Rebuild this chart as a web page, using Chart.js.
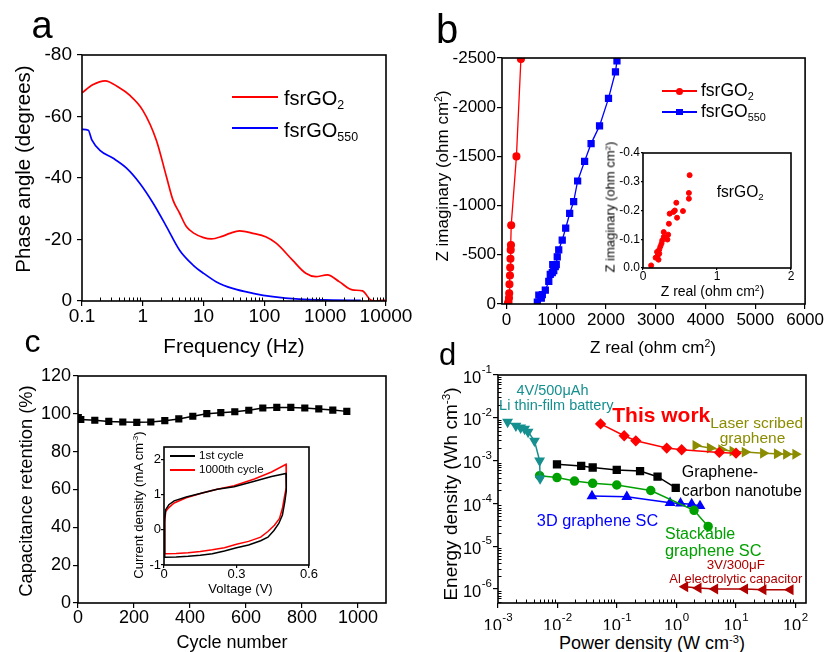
<!DOCTYPE html>
<html>
<head>
<meta charset="utf-8">
<script src="https://cdn.jsdelivr.net/npm/chart.js@4.4.1/dist/chart.umd.min.js"></script>
<style>
  body { margin: 0; background: #fff; }
  #wrap { position: relative; width: 827px; height: 652px; overflow: hidden; font-family: "Liberation Sans", Arial, sans-serif; }
  #wrap canvas { position: absolute; }
  .t { position: absolute; white-space: nowrap; line-height: 1; color: #000; }
  .t sup { font-size: 62%; line-height: 0; vertical-align: 0.55em; }
  .t .sb { font-size: 62%; line-height: 0; vertical-align: -0.32em; }
  .ln { position: absolute; height: 2px; }
  .mk { position: absolute; }
</style>
</head>
<body>
<div id="wrap">
  <canvas id="ca" width="420" height="330" style="left:0;top:0"></canvas>
  <canvas id="cb" width="407" height="330" style="left:420px;top:0"></canvas>
  <canvas id="cbi" width="210" height="160" style="left:590px;top:140px"></canvas>
  <canvas id="cc" width="420" height="300" style="left:0;top:330px"></canvas>
  <canvas id="cci" width="200" height="170" style="left:120px;top:430px"></canvas>
  <canvas id="cd" width="407" height="300" style="left:420px;top:330px"></canvas>
</div>
<script>
const FONT = '"Liberation Sans", Arial, sans-serif';

// a: phase angle vs frequency
const aFreqRed = [0.1, 0.15, 0.24, 0.4, 0.6, 1, 1.67, 2.45, 3.14, 4, 5.2, 7, 10, 13.4, 20, 27, 39, 65, 107, 156, 290, 480, 700, 1090, 1700, 2800, 4100, 5600, 6700, 9600];
const aPhaseRed = [-67.7, -70.3, -71.6, -69.5, -67, -62, -52.3, -40.4, -32.8, -28.7, -24.2, -22, -20.6, -20.2, -21, -22, -22.8, -22, -20.8, -18.8, -13.3, -9, -7.9, -8.5, -6.3, -3.6, -3.3, -0.3, 0, -0.3];
const aFreqBlue = [0.1, 0.127, 0.145, 0.197, 0.326, 0.54, 0.89, 1.48, 2.45, 4.0, 6.7, 10, 16, 30, 65, 137, 375, 1300, 3850];
const aPhaseBlue = [-55.8, -55.5, -52.4, -49, -46.4, -43.2, -38.3, -31.8, -24.2, -16.6, -11.7, -9, -6.3, -4.1, -2.5, -1.4, -0.6, -0.3, -0.2];
const aXTicks = [0.1, 1, 10, 100, 1000, 10000];
const aYTicks = [-80, -60, -40, -20, 0];

// b: Nyquist
const bRealRed = [30, 40, 50, 55, 60, 70, 75, 80, 85, 90, 95, 200, 290];
const bImagRed = [-5, -20, -60, -110, -200, -290, -370, -460, -550, -600, -800, -1500, -2490];
const bRealBlue = [620, 650, 700, 720, 780, 850, 880, 920, 950, 930, 980, 1000, 1020, 1050, 1120, 1190, 1270, 1350, 1430, 1570, 1700, 1870, 2050, 2190, 2220];
const bImagBlue = [-20, -90, -60, -95, -140, -230, -300, -320, -340, -400, -380, -400, -480, -550, -650, -770, -920, -1040, -1250, -1450, -1630, -1810, -2090, -2360, -2470];
const bXTicks = [0, 1000, 2000, 3000, 4000, 5000, 6000];
const bYTicks = [-2500, -2000, -1500, -1000, -500, 0];

// b inset
const biReal = [0.11, 0.17, 0.19, 0.21, 0.22, 0.235, 0.25, 0.26, 0.28, 0.28, 0.33, 0.34, 0.35, 0.36, 0.41, 0.43, 0.45, 0.46, 0.54, 0.62, 0.62, 0.63, 0.2, 0.22];
const biImag = [-0.009, -0.036, -0.056, -0.029, -0.064, -0.075, -0.085, -0.096, -0.108, -0.125, -0.099, -0.116, -0.154, -0.189, -0.195, -0.2, -0.227, -0.175, -0.198, -0.241, -0.261, -0.323, -0.044, -0.05];
const biXTicks = [0, 1, 2];
const biYTicks = [-0.4, -0.3, -0.2, -0.1, 0];

// c: capacitance retention
const cCycle = [1, 10, 60, 110, 160, 210, 260, 310, 360, 410, 460, 510, 560, 610, 660, 710, 760, 810, 860, 910, 960];
const cRet = [98, 97, 96.6, 96, 95.7, 95.5, 95.7, 96.4, 97.3, 98.7, 100.1, 100.6, 101.1, 101.9, 103.1, 103.4, 103.4, 103.1, 102.6, 102, 101.3];
const cXTicks = [0, 200, 400, 600, 800, 1000];
const cYTicks = [0, 20, 40, 60, 80, 100, 120];

// c inset: CV loops
const cv1V = [0, 0.003, 0.007, 0.02, 0.042, 0.092, 0.162, 0.22, 0.29, 0.374, 0.445, 0.505, 0.507, 0.505, 0.5, 0.49, 0.475, 0.455, 0.43, 0.4, 0.35, 0.3, 0.25, 0.2, 0.15, 0.1, 0.05, 0.003, 0];
const cv1I = [-0.78, 0.32, 0.57, 0.71, 0.82, 0.93, 1.05, 1.15, 1.22, 1.38, 1.51, 1.6, 1.58, 1.1, 0.8, 0.42, 0.18, -0.02, -0.21, -0.31, -0.43, -0.51, -0.6, -0.68, -0.72, -0.75, -0.77, -0.78, -0.78];
const cv1000V = [0, 0.003, 0.007, 0.02, 0.042, 0.092, 0.162, 0.22, 0.29, 0.374, 0.445, 0.505, 0.507, 0.505, 0.5, 0.49, 0.478, 0.457, 0.43, 0.4, 0.35, 0.3, 0.25, 0.2, 0.15, 0.1, 0.05, 0.003, 0];
const cv1000I = [-0.68, 0.22, 0.52, 0.63, 0.76, 0.91, 1.05, 1.15, 1.25, 1.44, 1.64, 1.86, 1.84, 1.2, 1.0, 0.61, 0.32, 0.13, -0.05, -0.21, -0.33, -0.41, -0.51, -0.57, -0.62, -0.65, -0.67, -0.68, -0.68];
const ciXTicks = [0, 0.3, 0.6];
const ciYTicks = [-1, 0, 1, 2];

// d: Ragone plot
const dLiP = [1.45e-3, 2.0e-3, 2.4e-3, 2.8e-3, 3.2e-3, 4.1e-3, 5.0e-3, 5.1e-3];
const dLiE = [8e-3, 6.5e-3, 5.9e-3, 5.5e-3, 4.7e-3, 2.9e-3, 1.0e-3, 3.8e-4];
const dThisP = [0.053, 0.132, 0.207, 0.685, 1.22, 5.24, 10];
const dThisE = [7.2e-3, 3.8e-3, 2.9e-3, 1.96e-3, 1.79e-3, 1.55e-3, 1.49e-3];
const dLaserP = [2.1, 3.66, 5.7, 8.8, 14.1, 28.7, 49, 70, 100];
const dLaserE = [2.26e-3, 1.96e-3, 1.8e-3, 1.66e-3, 1.58e-3, 1.49e-3, 1.44e-3, 1.41e-3, 1.41e-3];
const dCntP = [0.0098, 0.025, 0.039, 0.099, 0.244, 0.48, 0.97];
const dCntE = [8.2e-4, 7.5e-4, 6.9e-4, 6.05e-4, 5.7e-4, 4.2e-4, 2.3e-4];
const dStackP = [5.0e-3, 9.8e-3, 0.0193, 0.039, 0.099, 0.369, 1.97, 3.4];
const dStackE = [4.45e-4, 4.0e-4, 3.33e-4, 2.95e-4, 2.69e-4, 2.0e-4, 6.9e-5, 2.9e-5];
const d3DP = [0.038, 0.146, 0.78, 1.17, 1.8, 2.48];
const d3DE = [1.48e-4, 1.43e-4, 1.03e-4, 1.0e-4, 9.6e-5, 8.7e-5];
const dAlP = [1.39, 2.33, 4.43, 14.1, 28.7, 82];
const dAlE = [1.13e-6, 1.05e-6, 1.0e-6, 1.0e-6, 9.6e-7, 9.6e-7];
const dXTicks = [1e-3, 1e-2, 1e-1, 1, 10, 100];
const dYTicks = [1e-6, 1e-5, 1e-4, 1e-3, 1e-2, 1e-1];

const wrap = document.getElementById('wrap');
const pts = (xs, ys) => xs.map((x, i) => ({ x: x, y: ys[i] }));

// box round the plot area
const frame = {
  id: 'frame',
  afterDatasetsDraw(chart) {
    const a = chart.chartArea, c = chart.ctx;
    c.save();
    c.strokeStyle = '#000';
    c.lineWidth = 1.6;
    c.strokeRect(a.left, a.top, a.right - a.left, a.bottom - a.top);
    c.restore();
  }
};

// small inner ticks at 2..9 on log axes
const minorTicks = {
  id: 'minorTicks',
  afterDraw(chart) {
    const c = chart.ctx, a = chart.chartArea;
    c.save();
    c.strokeStyle = '#000';
    c.lineWidth = 1;
    Object.values(chart.scales).forEach(s => {
      if (s.type !== 'logarithmic') return;
      const lo = Math.floor(Math.log10(s.min)), hi = Math.ceil(Math.log10(s.max));
      for (let k = lo; k <= hi; k++) {
        for (let m = 2; m <= 9; m++) {
          const v = m * Math.pow(10, k);
          if (v < s.min || v > s.max) continue;
          const p = Math.round(s.getPixelForValue(v)) + 0.5;
          c.beginPath();
          if (s.isHorizontal()) { c.moveTo(p, a.bottom); c.lineTo(p, a.bottom - 3.5); }
          else { c.moveTo(a.left, p); c.lineTo(a.left + 3.5, p); }
          c.stroke();
        }
      }
    });
    c.restore();
  }
};

// 10^n tick labels for panel d
function drawPow(c, e, x, y, align) {
  const base = '16.5px ' + FONT, sup = '11.5px ' + FONT;
  c.font = base;
  const wb = c.measureText('10').width;
  c.font = sup;
  const we = c.measureText(String(e)).width;
  const w = wb + we + 0.5;
  const x0 = align === 'right' ? x - w : x - w / 2;
  c.textAlign = 'left';
  c.textBaseline = 'middle';
  c.font = base;
  c.fillText('10', x0, y);
  c.font = sup;
  c.fillText(String(e), x0 + wb + 0.5, y - 8);
}
const powLabels = {
  id: 'powLabels',
  afterDraw(chart) {
    const c = chart.ctx, a = chart.chartArea;
    c.save();
    c.fillStyle = '#000';
    dXTicks.forEach(v => drawPow(c, Math.round(Math.log10(v)), chart.scales.x.getPixelForValue(v), a.bottom + 23, 'center'));
    dYTicks.forEach(v => drawPow(c, Math.round(Math.log10(v)), a.left - 6, chart.scales.y.getPixelForValue(v) + 3, 'right'));
    c.restore();
  }
};

function axis(o) {
  return {
    type: o.type || 'linear',
    min: o.min,
    max: o.max,
    reverse: !!o.reverse,
    grid: { drawOnChartArea: false, drawTicks: true, tickLength: o.tl === undefined ? 5 : o.tl, color: '#000', lineWidth: 1.2 },
    border: { display: false },
    ticks: {
      display: o.labels !== false,
      font: { size: o.size, family: FONT, lineHeight: 1 },
      color: '#000',
      padding: o.pad === undefined ? 3 : o.pad,
      autoSkip: false,
      maxRotation: 0,
      callback: o.fmt || (v => String(v))
    },
    afterBuildTicks: s => { s.ticks = o.ticks.map(v => ({ value: v })); },
    afterFit: s => { if (s.isHorizontal()) s.height = o.box; else s.width = o.box; }
  };
}

function make(id, type, datasets, xs, ys, pad, extra) {
  return new Chart(document.getElementById(id), {
    type: type,
    data: { datasets: datasets },
    options: {
      responsive: false,
      animation: false,
      devicePixelRatio: 1,
      layout: { padding: pad },
      scales: { x: xs, y: ys },
      plugins: { legend: { display: false }, tooltip: { enabled: false } }
    },
    plugins: [frame, minorTicks].concat(extra || [])
  });
}

// a
make('ca', 'line', [
  { data: pts(aFreqRed, aPhaseRed), borderColor: '#ff0000', borderWidth: 1.7, pointRadius: 0, cubicInterpolationMode: 'monotone', fill: false },
  { data: pts(aFreqBlue, aPhaseBlue), borderColor: '#0000ff', borderWidth: 1.7, pointRadius: 0, cubicInterpolationMode: 'monotone', fill: false }
],
  axis({ type: 'logarithmic', min: 0.1, max: 10000, ticks: aXTicks, size: 19, box: 29, pad: 1 }),
  axis({ min: -80, max: 0, reverse: true, ticks: aYTicks, size: 19, box: 82, pad: 5 }),
  { left: 0, top: 55, right: 34, bottom: 0 });

// b
make('cb', 'scatter', [
  { data: pts(bRealRed, bImagRed), showLine: true, borderColor: '#ff0000', backgroundColor: '#ff0000', borderWidth: 1.3, pointRadius: 3.4, pointStyle: 'circle' },
  { data: pts(bRealBlue, bImagBlue), showLine: true, borderColor: '#0000ff', backgroundColor: '#0000ff', borderWidth: 1.3, pointRadius: 4.2, pointStyle: 'rect' }
],
  axis({ min: -90, max: 6000, ticks: bXTicks, size: 17, box: 26, pad: 3 }),
  axis({ min: -2500, max: 0, reverse: true, ticks: bYTicks, size: 17, box: 82, pad: 1 }),
  { left: 0, top: 58, right: 21, bottom: 0 });

// b inset
make('cbi', 'scatter', [
  { data: pts(biReal, biImag), backgroundColor: '#ff0000', borderColor: '#ff0000', pointRadius: 2.5, pointStyle: 'circle' }
],
  axis({ min: 0, max: 2, ticks: biXTicks, size: 12, box: 32, tl: 2, pad: 1 }),
  axis({ min: -0.4, max: 0, reverse: true, ticks: biYTicks, size: 12, box: 53, tl: 2, pad: 1, fmt: v => v.toFixed(1) }),
  { left: 0, top: 13, right: 9, bottom: 0 });

// c
make('cc', 'line', [
  { data: pts(cCycle, cRet), borderColor: '#000', backgroundColor: '#000', borderWidth: 1.5, pointRadius: 4, pointStyle: 'rect' }
],
  axis({ min: 0, max: 1100, ticks: cXTicks, size: 18, box: 27, pad: 1 }),
  axis({ min: 0, max: 120, ticks: cYTicks, size: 18, box: 78, pad: 2 }),
  { left: 0, top: 46, right: 34, bottom: 0 });

// c inset
make('cci', 'scatter', [
  { data: pts(cv1V, cv1I), showLine: true, borderColor: '#000', borderWidth: 1.5, pointRadius: 0 },
  { data: pts(cv1000V, cv1000I), showLine: true, borderColor: '#ff0000', borderWidth: 1.5, pointRadius: 0 }
],
  axis({ min: 0, max: 0.6, ticks: ciXTicks, size: 13, box: 35, tl: 3, pad: 0 }),
  axis({ min: -1, max: 2.35, ticks: ciYTicks, size: 13, box: 44, tl: 3, pad: 0 }),
  { left: 0, top: 17, right: 11, bottom: 0 });

// d
function ser(xs, ys, color, style, rot, r) {
  return { data: pts(xs, ys), showLine: true, borderColor: color, backgroundColor: color, borderWidth: 1.5, pointStyle: style, pointRotation: rot, pointRadius: r };
}
make('cd', 'scatter', [
  ser(dLiP, dLiE, '#168f8f', 'triangle', 180, 4.8),
  ser(dThisP, dThisE, '#ff0000', 'rectRot', 0, 4.6),
  ser(dLaserP, dLaserE, '#8c8c00', 'triangle', 90, 4.8),
  ser(dCntP, dCntE, '#000000', 'rect', 0, 4.8),
  ser(dStackP, dStackE, '#00a000', 'circle', 0, 4),
  ser(d3DP, d3DE, '#0000ff', 'triangle', 0, 4.8),
  ser(dAlP, dAlE, '#b00000', 'triangle', -90, 4.8)
],
  axis({ type: 'logarithmic', min: 1e-3, max: 150, ticks: dXTicks, size: 16, box: 27, labels: false }),
  axis({ type: 'logarithmic', min: 4.7e-7, max: 0.1, ticks: dYTicks, size: 16, box: 78, labels: false }),
  { left: 0, top: 45, right: 21, bottom: 0 }, [powLabels]);

// text
function txt(html, x, y, size, o) {
  o = o || {};
  const d = document.createElement('div');
  d.className = 't';
  d.innerHTML = html;
  d.style.left = x + 'px';
  d.style.top = y + 'px';
  d.style.fontSize = size + 'px';
  if (o.color) d.style.color = o.color;
  if (o.bold) d.style.fontWeight = 'bold';
  let tf = o.left ? 'translate(0,-50%)' : 'translate(-50%,-50%)';
  if (o.rot) tf += ' rotate(-90deg)';
  d.style.transform = tf;
  wrap.appendChild(d);
}
function seg(x, y, w, color) {
  const d = document.createElement('div');
  d.className = 'ln';
  d.style.left = x + 'px';
  d.style.top = (y - 1) + 'px';
  d.style.width = w + 'px';
  d.style.background = color;
  wrap.appendChild(d);
}
function mark(x, y, s, color, round) {
  const d = document.createElement('div');
  d.className = 'mk';
  d.style.left = (x - s / 2) + 'px';
  d.style.top = (y - s / 2) + 'px';
  d.style.width = s + 'px';
  d.style.height = s + 'px';
  d.style.background = color;
  if (round) d.style.borderRadius = '50%';
  wrap.appendChild(d);
}

txt('a', 42, 25, 38);
txt('b', 447, 29, 40);
txt('c', 32.5, 341, 32);
txt('d', 447.5, 354, 31);

txt('Frequency (Hz)', 234, 346, 20.5);
txt('Phase angle (degrees)', 23, 168.5, 20.5, { rot: true });
txt('Z real (ohm cm<sup>2</sup>)', 653, 347, 17);
txt('Z imaginary (ohm cm<sup>2</sup>)', 441.5, 176, 17, { rot: true });
txt('Cycle number', 232, 641.5, 18);
txt('Capacitance retention (%)', 25.5, 491, 18.3, { rot: true });
txt('Power density (W cm<sup>-3</sup>)', 652, 643, 18);
txt('Energy density (Wh cm<sup>-3</sup>)', 449.5, 494, 19, { rot: true });

txt('Z real (ohm cm<sup>2</sup>)', 712.5, 291, 14);
txt('Z imaginary (ohm cm<sup>2</sup>)', 610, 207, 13, { rot: true });
txt('Voltage (V)', 240.5, 587.5, 13);
txt('Current density (mA cm<sup>-3</sup>)', 137.5, 505, 13, { rot: true });

// legends
seg(232, 97, 46, '#ff0000');
txt('fsrGO<span class="sb">2</span>', 284, 98, 20, { left: true });
seg(232, 128, 46, '#0000ff');
txt('fsrGO<span class="sb">550</span>', 284, 130, 20, { left: true });

seg(662, 91, 35, '#ff0000');
mark(679.5, 91, 7, '#ff0000', true);
txt('fsrGO<span class="sb">2</span>', 701, 91, 17.5, { left: true });
seg(662, 112, 35, '#0000ff');
mark(679.5, 112, 6.5, '#0000ff', false);
txt('fsrGO<span class="sb">550</span>', 701, 112, 17.5, { left: true });

txt('fsrGO<span class="sb">2</span>', 716.7, 191.7, 15.6, { left: true });

seg(170, 456, 25, '#000');
txt('1st cycle', 199, 456, 11.5, { left: true });
seg(170, 470, 25, '#ff0000');
txt('1000th cycle', 199, 470, 11.5, { left: true });

// d annotations
txt('4V/500μAh', 552.5, 390, 14.5, { color: '#168f8f' });
txt('Li thin-film battery', 556.3, 405, 14.5, { color: '#168f8f' });
txt('This work', 661.3, 414, 21, { color: '#ff0000', bold: true });
txt('Laser scribed', 756.7, 422.5, 15.5, { color: '#8c8c00' });
txt('graphene', 752.5, 438, 15.5, { color: '#8c8c00' });
txt('Graphene-', 681.7, 471.5, 16, { left: true });
txt('carbon nanotube', 681.7, 491, 16, { left: true });
txt('3D graphene SC', 597.5, 519.5, 16.3, { color: '#0000ff' });
txt('Stackable', 665, 534, 16, { left: true, color: '#00a000' });
txt('graphene SC', 665, 550, 16.4, { left: true, color: '#00a000' });
txt('3V/300μF', 735.8, 565, 13.4, { color: '#b00000' });
txt('Al electrolytic capacitor', 735.8, 577.5, 13, { color: '#b00000' });
</script>
</body>
</html>
